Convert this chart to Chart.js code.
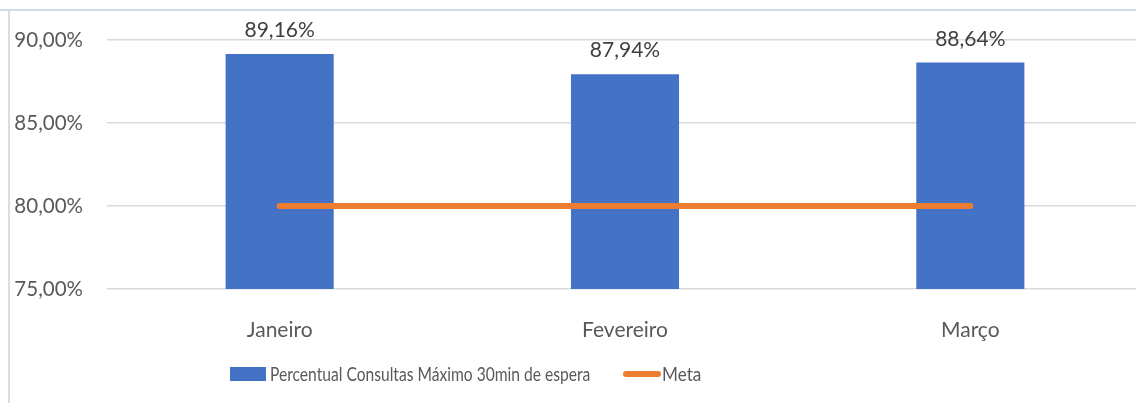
<!DOCTYPE html>
<html>
<head>
<meta charset="utf-8">
<script src="https://cdn.jsdelivr.net/npm/chart.js@4"></script>
<style>
  body { margin: 0; background: #fff; overflow: hidden; width: 1136px; height: 403px; position: relative; font-family: Lato, sans-serif; }
  #myChart { position: absolute; left: 0; top: 0; }
  .frameTop { position: absolute; left: 0; top: 9px; width: 1136px; height: 2px; background: #d2dbeb; }
  .frameLeft { position: absolute; left: 8px; top: 10px; width: 2px; height: 393px; background: #dcdcdc; }
  .legend { position: absolute; top: 362px; left: 0; height: 24px; font-size: 19.5px; color: #595959; }
  .legend span { position: absolute; white-space: nowrap; line-height: 24px; transform-origin: left center; }
  .lgBox { position: absolute; }
</style>
</head>
<body>
<canvas id="myChart" width="1143" height="403"></canvas>
<div class="frameTop"></div>
<div class="frameLeft"></div>
<div class="legend">
  <div class="lgBox" style="left:230px; top:5px; width:36px; height:14px; background:#4472C4;"></div>
  <span style="left:270px; top:0; transform: scaleX(0.8);">Percentual Consultas Máximo 30min de espera</span>
  <div class="lgBox" style="left:623px; top:9px; width:38px; height:6px; border-radius:3px; background:#ED7D31;"></div>
  <span style="left:662px; top:0; transform: scaleX(0.88);">Meta</span>
</div>
<script>
var months = ['Janeiro', 'Fevereiro', 'Março'];
var percentual = [89.16, 87.94, 88.64];
var meta = [80, 80, 80];
var yTicks = [75, 80, 85, 90];

function pct(v) {
    return v.toFixed(2).replace('.', ',') + '%';
}

// labels above the bars
var barLabels = {
    id: 'barLabels',
    afterDatasetsDraw: function(chart) {
        var c = chart.ctx;
        var bars = chart.getDatasetMeta(1).data;
        c.save();
        c.font = '21px Lato';
        c.fillStyle = '#404040';
        c.textAlign = 'center';
        c.textBaseline = 'alphabetic';
        bars.forEach(function(bar, i) {
            c.fillText(pct(percentual[i]), bar.x, bar.y - 17);
        });
        c.restore();
    }
};

var ctx = document.getElementById('myChart').getContext('2d');
var myChart = new Chart(ctx, {
    type: 'bar',
    data: {
        labels: months,
        datasets: [
        {
            type: 'line',
            label: 'Meta',
            data: meta,
            borderColor: '#ED7D31',
            backgroundColor: '#ED7D31',
            borderWidth: 6,
            borderCapStyle: 'round',
            pointRadius: 0,
            order: 0
        },
        {
            label: 'Percentual Consultas Máximo 30min de espera',
            data: percentual,
            backgroundColor: '#4472C4',
            borderWidth: 0,
            barPercentage: 0.313,
            categoryPercentage: 1,
            order: 1
        }
        ]
    },
    plugins: [barLabels],
    options: {
        responsive: false,
        animation: false,
        layout: { padding: { top: 40, bottom: 54, left: 0, right: 0 } },
        plugins: {
            legend: { display: false },
            tooltip: { enabled: false }
        },
        scales: {
            x: {
                grid: { display: false },
                border: { display: false },
                ticks: { color: '#595959', font: { family: 'Lato', size: 21 }, padding: 21 },
                afterFit: function(s) { s.height = 60; }
            },
            y: {
                min: 75,
                max: 90,
                afterBuildTicks: function(s) { s.ticks = yTicks.map(function(v) { return { value: v }; }); },
                grid: { color: '#d9d9d9', lineWidth: 1.5, drawTicks: false },
                border: { display: false },
                ticks: {
                    color: '#595959',
                    font: { family: 'Lato', size: 20.5 },
                    padding: 24,
                    callback: function(v) { return pct(v); }
                },
                afterFit: function(s) { s.width = 107; }
            }
        }
    }
});
</script>
</body>
</html>
